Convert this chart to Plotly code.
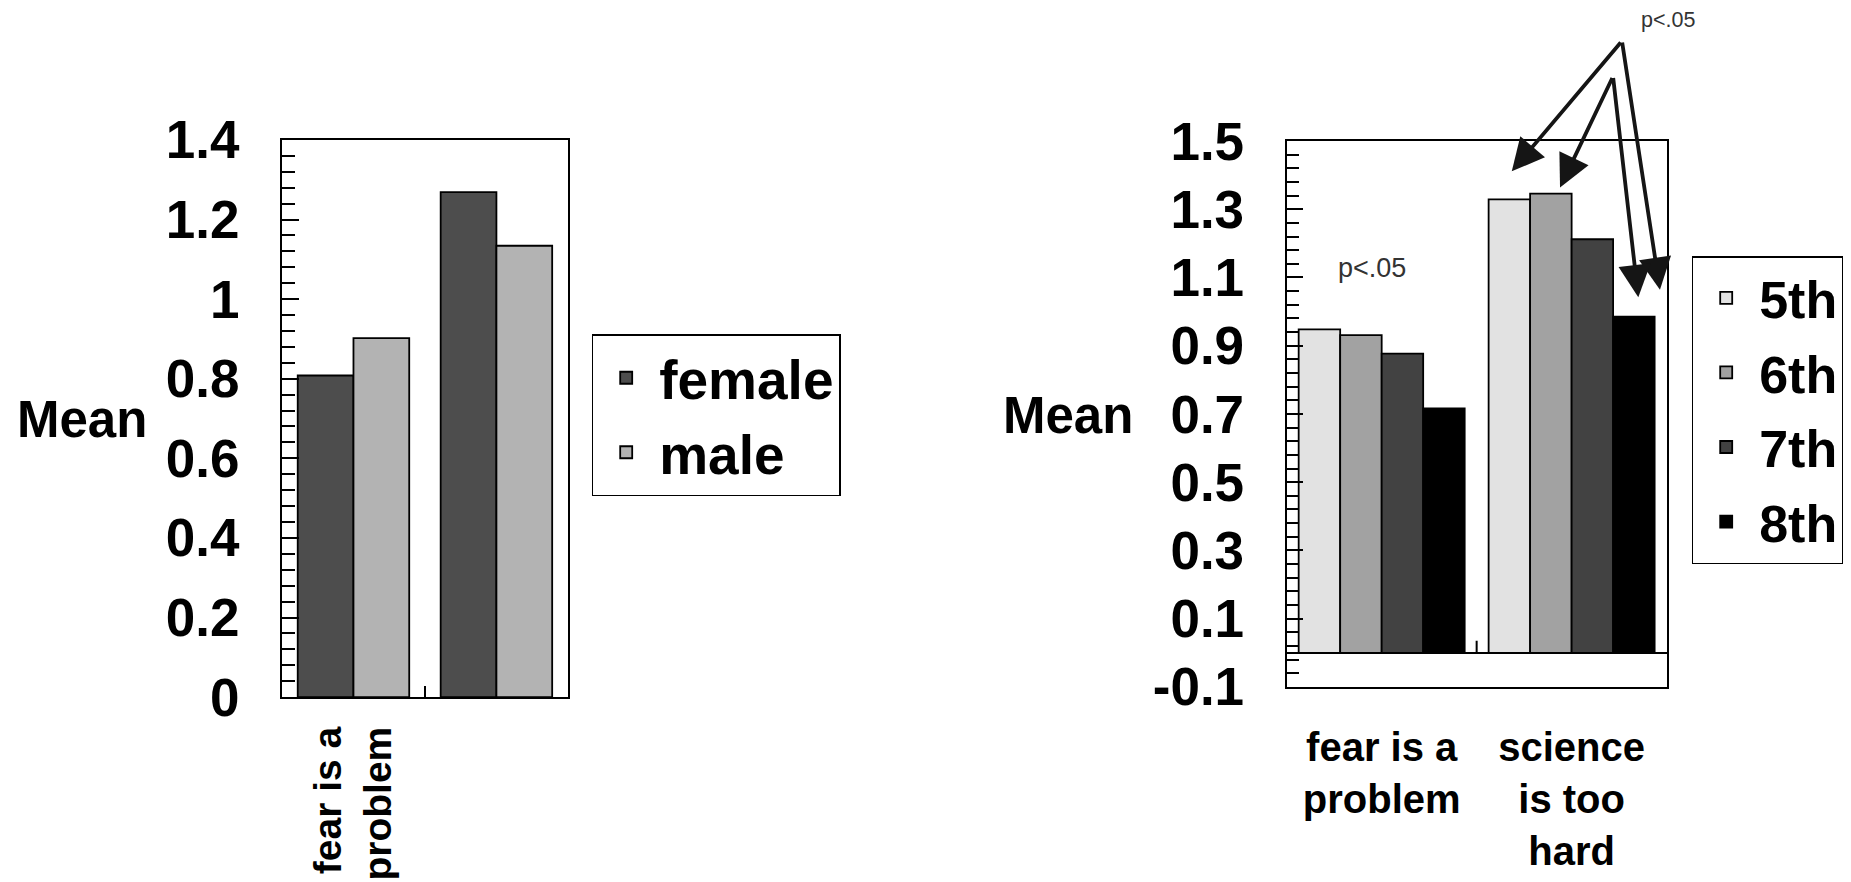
import plotly.graph_objects as go

# ---------------- data ----------------
categories = ["fear is a problem", "science is too hard"]
left_xtick_text = ["fear is a<br>problem", ""]
right_xtick_text = ["fear is a<br>problem", "science<br>is too<br>hard"]

gender_names = ["female", "male"]
female_means = [0.808, 1.269]
male_means = [0.902, 1.134]

grade_names = ["5th", "6th", "7th", "8th"]
grade5_means = [0.948, 1.329]
grade6_means = [0.931, 1.346]
grade7_means = [0.877, 1.212]
grade8_means = [0.716, 0.985]

left_ytick_vals = [0, 0.2, 0.4, 0.6, 0.8, 1.0, 1.2, 1.4]
left_ytick_text = ["0", "0.2", "0.4", "0.6", "0.8", "1", "1.2", "1.4"]
right_ytick_vals = [-0.1, 0.1, 0.3, 0.5, 0.7, 0.9, 1.1, 1.3, 1.5]
right_ytick_text = ["-0.1", "0.1", "0.3", "0.5", "0.7", "0.9", "1.1", "1.3", "1.5"]

# ---------------- geometry helpers (page has an 8px body margin) ----------------
OFF = 8
W, H = 1851 - OFF, 882 - OFF


def px(xs):
    return (xs - OFF) / W


def py(ys):
    return 1 - (ys - OFF) / H


# ---------------- style ----------------
FONT = "Liberation Sans, Arial, Helvetica, sans-serif"
gender_colors = ["#4d4d4d", "#b3b3b3"]
grade_colors = ["#e2e2e2", "#a2a2a2", "#424242", "#000000"]

fig = go.Figure()

w_left = 0.39
for i, (name, vals) in enumerate(zip(gender_names, [female_means, male_means])):
    fig.add_trace(go.Bar(
        x=categories, y=vals, name=name, xaxis="x", yaxis="y", legend="legend",
        marker=dict(color=gender_colors[i], line=dict(color="black", width=1.8)),
        width=w_left, offset=-w_left + i * w_left,
    ))

w_right = 0.2185
for i, (name, vals) in enumerate(zip(grade_names, [grade5_means, grade6_means, grade7_means, grade8_means])):
    fig.add_trace(go.Bar(
        x=categories, y=vals, name=name, xaxis="x2", yaxis="y2", legend="legend2",
        legendgroup="grade_" + name,
        marker=dict(color=grade_colors[i], line=dict(color="black", width=1.8)),
        width=w_right, offset=-2 * w_right + i * w_right,
    ))

axis_common = dict(showline=True, linecolor="black", linewidth=2, mirror=True,
                   showgrid=False, automargin=False)

tickfont_x_left = dict(family=FONT, size=39, color="black", weight="bold")
tickfont_x_right = dict(family=FONT, size=40, color="black", weight="bold")
tickfont_y = dict(family=FONT, size=53, color="black", weight="bold")
legend_font = dict(family=FONT, size=55, color="black", weight="bold")
legend2_font = dict(family=FONT, size=52, color="black", weight="bold")
mean_font = dict(family=FONT, size=51, color="black", weight="bold")

annotations = [
    dict(text="Mean", xref="paper", yref="paper", x=px(82), y=py(419), showarrow=False,
         xanchor="center", yanchor="middle", font=mean_font),
    dict(text="Mean", xref="paper", yref="paper", x=px(1068), y=py(415.5), showarrow=False,
         xanchor="center", yanchor="middle", font=mean_font),
    dict(text="p<.05", xref="paper", yref="paper", x=px(1372), y=py(268), showarrow=False,
         xanchor="center", yanchor="middle", font=dict(family=FONT, size=27, color="#333333")),
    dict(text="p<.05", xref="paper", yref="paper", x=px(1667.5), y=py(19.5), showarrow=False,
         xanchor="center", yanchor="middle", font=dict(family=FONT, size=21.5, color="#333333")),
]

# significance arrows (tip, tail) in data coords of right chart
arrows = [
    ((0.685, 1.411), (1.265, 1.793)),
    ((1.465, 1.064), (1.265, 1.793)),
    ((0.939, 1.364), (1.218, 1.689)),
    ((1.351, 1.042), (1.218, 1.689)),
]
for (tx, ty), (axv, ayv) in arrows:
    annotations.append(dict(
        x=tx, y=ty, xref="x2", yref="y2", ax=axv, ay=ayv, axref="x2", ayref="y2",
        text="", showarrow=True, arrowhead=2, arrowsize=1.7, arrowwidth=3.8,
        arrowcolor="#151515",
    ))

shapes = [
    dict(type="line", xref="x2", yref="y2", x0=0.5, x1=0.5, ysizemode="pixel",
         yanchor=0, y0=0, y1=12, line=dict(color="black", width=2)),
]

fig.update_layout(
    width=W, height=H,
    margin=dict(l=0, r=0, t=0, b=0, autoexpand=False),
    paper_bgcolor="white", plot_bgcolor="white",
    barmode="group",
    font=dict(family=FONT, color="black"),
    xaxis=dict(domain=[px(282), px(567.9)], anchor="y", type="category",
               range=[-0.5, 1.5], tickvals=categories, ticktext=left_xtick_text,
               tickangle=-90, ticks="inside", tickson="boundaries", ticklen=11,
               tickwidth=2, tickcolor="black", tickfont=tickfont_x_left,
               ticklabelstandoff=12, zeroline=False, **axis_common),
    yaxis=dict(domain=[py(697.1), py(139.9)], anchor="x", range=[0, 1.4],
               tickvals=left_ytick_vals, ticktext=left_ytick_text,
               ticks="inside", ticklen=17, tickwidth=2, tickcolor="black",
               minor=dict(tickmode="linear", tick0=0, dtick=0.04, ticks="inside",
                          ticklen=13, tickwidth=2, tickcolor="black", showgrid=False),
               tickfont=tickfont_y, ticklabelstandoff=30, zeroline=False, **axis_common),
    xaxis2=dict(domain=[px(1286.7), px(1666.6)], anchor="y2", type="category",
                range=[-0.5, 1.5], tickvals=categories, ticktext=right_xtick_text,
                ticks="", tickfont=tickfont_x_right, ticklabelstandoff=24, zeroline=False,
                **axis_common),
    yaxis2=dict(domain=[py(686.9), py(141)], anchor="x2", range=[-0.1, 1.5],
                tickvals=right_ytick_vals, ticktext=right_ytick_text,
                ticks="inside", ticklen=16, tickwidth=2, tickcolor="black",
                minor=dict(tickmode="linear", tick0=0.1, dtick=0.04, ticks="inside",
                           ticklen=12, tickwidth=2, tickcolor="black", showgrid=False),
                tickfont=tickfont_y, ticklabelstandoff=30,
                zeroline=True, zerolinecolor="black", zerolinewidth=2, **axis_common),
    legend=dict(x=px(591.7), y=py(334), xanchor="left", yanchor="top",
                bordercolor="black", borderwidth=1.5, bgcolor="white",
                font=legend_font, itemwidth=56, tracegroupgap=0),
    legend2=dict(x=px(1691.7), y=py(256), xanchor="left", yanchor="top",
                 bordercolor="black", borderwidth=1.5, bgcolor="white",
                 font=legend2_font, itemwidth=56, tracegroupgap=4),
    annotations=annotations,
    shapes=shapes,
    showlegend=True,
)

fig.write_html("out.html")
